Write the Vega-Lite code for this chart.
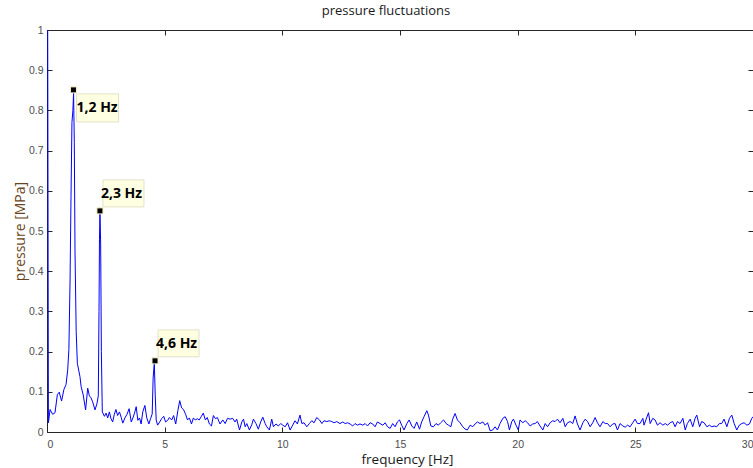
{
  "$schema": "https://vega.github.io/schema/vega-lite/v6.json",
  "width": 706,
  "height": 402,
  "autosize": "none",
  "padding": {"left": 47, "top": 30, "right": 0, "bottom": 36},
  "background": "white",
  "title": {"text": "pressure fluctuations", "font": "Open Sans", "fontSize": 13, "fontWeight": "normal", "color": "#1a1a1a", "anchor": "middle", "offset": 7, "dx": -14},
  "datasets": {
    "spectrum": [
      {"f":0.03,"p":1.0},{"f":0.06,"p":0.023},{"f":0.13,"p":0.056},{"f":0.24,"p":0.044},{"f":0.34,"p":0.048},{"f":0.44,"p":0.093},{"f":0.52,"p":0.099},{"f":0.62,"p":0.077},{"f":0.72,"p":0.106},{"f":0.81,"p":0.118},{"f":0.88,"p":0.155},{"f":0.93,"p":0.205},{"f":0.98,"p":0.378},{"f":1.02,"p":0.585},{"f":1.06,"p":0.77},{"f":1.1,"p":0.8},{"f":1.13,"p":0.843},{"f":1.16,"p":0.72},{"f":1.19,"p":0.45},{"f":1.24,"p":0.25},{"f":1.29,"p":0.171},{"f":1.4,"p":0.138},{"f":1.45,"p":0.113},{"f":1.54,"p":0.092},{"f":1.64,"p":0.055},{"f":1.73,"p":0.109},{"f":1.8,"p":0.09},{"f":1.87,"p":0.085},{"f":1.94,"p":0.075},{"f":2.04,"p":0.055},{"f":2.12,"p":0.07},{"f":2.18,"p":0.09},{"f":2.21,"p":0.3},{"f":2.23,"p":0.478},{"f":2.25,"p":0.548},{"f":2.28,"p":0.47},{"f":2.31,"p":0.2},{"f":2.35,"p":0.05},{"f":2.44,"p":0.039},{"f":2.51,"p":0.047},{"f":2.58,"p":0.035},{"f":2.65,"p":0.05},{"f":2.72,"p":0.033},{"f":2.79,"p":0.025},{"f":2.86,"p":0.044},{"f":2.93,"p":0.056},{"f":3.0,"p":0.041},{"f":3.08,"p":0.05},{"f":3.15,"p":0.037},{"f":3.22,"p":0.022},{"f":3.31,"p":0.035},{"f":3.4,"p":0.044},{"f":3.49,"p":0.058},{"f":3.58,"p":0.025},{"f":3.65,"p":0.035},{"f":3.72,"p":0.047},{"f":3.79,"p":0.063},{"f":3.86,"p":0.029},{"f":3.93,"p":0.035},{"f":4.0,"p":0.02},{"f":4.07,"p":0.05},{"f":4.16,"p":0.066},{"f":4.24,"p":0.035},{"f":4.33,"p":0.02},{"f":4.4,"p":0.033},{"f":4.47,"p":0.045},{"f":4.51,"p":0.134},{"f":4.56,"p":0.172},{"f":4.6,"p":0.09},{"f":4.64,"p":0.03},{"f":4.7,"p":0.017},{"f":4.79,"p":0.025},{"f":4.87,"p":0.033},{"f":4.96,"p":0.039},{"f":5.04,"p":0.025},{"f":5.13,"p":0.029},{"f":5.2,"p":0.036},{"f":5.3,"p":0.03},{"f":5.38,"p":0.041},{"f":5.47,"p":0.02},{"f":5.56,"p":0.053},{"f":5.64,"p":0.078},{"f":5.72,"p":0.06},{"f":5.8,"p":0.056},{"f":5.89,"p":0.044},{"f":5.97,"p":0.03},{"f":6.05,"p":0.035},{"f":6.14,"p":0.02},{"f":6.22,"p":0.035},{"f":6.3,"p":0.03},{"f":6.39,"p":0.033},{"f":6.47,"p":0.03},{"f":6.56,"p":0.039},{"f":6.64,"p":0.047},{"f":6.73,"p":0.03},{"f":6.81,"p":0.036},{"f":6.9,"p":0.02},{"f":6.99,"p":0.015},{"f":7.07,"p":0.041},{"f":7.16,"p":0.033},{"f":7.24,"p":0.036},{"f":7.35,"p":0.02},
      {"f":7.47,"p":0.03},{"f":7.57,"p":0.021},{"f":7.67,"p":0.034},{"f":7.78,"p":0.032},{"f":7.89,"p":0.034},{"f":7.99,"p":0.025},{"f":8.06,"p":0.032},{"f":8.18,"p":0.005},{"f":8.28,"p":0.025},{"f":8.35,"p":0.032},{"f":8.42,"p":0.013},{"f":8.49,"p":0.021},{"f":8.6,"p":0.005},{"f":8.7,"p":0.018},{"f":8.77,"p":0.032},{"f":8.88,"p":0.021},{"f":8.98,"p":0.007},{"f":9.08,"p":0.025},{"f":9.17,"p":0.037},{"f":9.27,"p":0.021},{"f":9.34,"p":0.013},{"f":9.45,"p":0.005},{"f":9.55,"p":0.032},{"f":9.62,"p":0.013},{"f":9.73,"p":0.02},{"f":9.83,"p":0.015},{"f":9.93,"p":0.021},{"f":10.02,"p":0.017},{"f":10.12,"p":0.013},{"f":10.22,"p":0.023},{"f":10.33,"p":0.005},{"f":10.44,"p":0.017},{"f":10.54,"p":0.028},{"f":10.64,"p":0.02},{"f":10.75,"p":0.042},{"f":10.83,"p":0.021},{"f":10.92,"p":0.023},{"f":11.04,"p":0.013},{"f":11.15,"p":0.021},{"f":11.25,"p":0.028},{"f":11.35,"p":0.023},{"f":11.46,"p":0.036},{"f":11.58,"p":0.03},{"f":11.68,"p":0.021},{"f":11.77,"p":0.028},{"f":11.89,"p":0.026},{"f":12.0,"p":0.028},{"f":12.1,"p":0.026},{"f":12.2,"p":0.023},{"f":12.31,"p":0.026},{"f":12.45,"p":0.021},{"f":12.57,"p":0.025},{"f":12.67,"p":0.021},{"f":12.77,"p":0.023},{"f":12.88,"p":0.02},{"f":12.99,"p":0.015},{"f":13.09,"p":0.021},{"f":13.19,"p":0.017},{"f":13.3,"p":0.02},{"f":13.42,"p":0.017},{"f":13.52,"p":0.021},{"f":13.62,"p":0.015},{"f":13.73,"p":0.023},{"f":13.84,"p":0.02},{"f":13.94,"p":0.013},{"f":14.04,"p":0.025},{"f":14.15,"p":0.021},{"f":14.27,"p":0.017},{"f":14.37,"p":0.023},{"f":14.47,"p":0.013},{"f":14.58,"p":0.009},{"f":14.69,"p":0.021},{"f":14.79,"p":0.013},{"f":14.89,"p":0.025},{"f":14.98,"p":0.03},{"f":15.07,"p":0.017},{"f":15.17,"p":0.005},{"f":15.29,"p":0.021},{"f":15.39,"p":0.03},{"f":15.5,"p":0.015},{"f":15.6,"p":0.009},{"f":15.71,"p":0.025},{"f":15.83,"p":0.007},{"f":15.92,"p":0.025},{"f":16.02,"p":0.038},{"f":16.14,"p":0.053},{"f":16.21,"p":0.042},{"f":16.31,"p":0.015},{"f":16.42,"p":0.013},{"f":16.53,"p":0.021},{"f":16.63,"p":0.017},{"f":16.73,"p":0.023},{"f":16.85,"p":0.03},{"f":16.96,"p":0.021},{"f":17.06,"p":0.017},{"f":17.16,"p":0.013},{"f":17.24,"p":0.032},{"f":17.34,"p":0.046},{"f":17.44,"p":0.03},{"f":17.55,"p":0.023},{"f":17.67,"p":0.013},{"f":17.77,"p":0.007},{"f":17.86,"p":0.005},{"f":17.98,"p":0.017},{"f":18.09,"p":0.013},{"f":18.19,"p":0.02},{"f":18.29,"p":0.025},{"f":18.4,"p":0.021},
      {"f":18.52,"p":0.025},{"f":18.62,"p":0.017},{"f":18.72,"p":0.023},{"f":18.83,"p":0.003},{"f":18.94,"p":0.005},{"f":19.04,"p":0.013},{"f":19.14,"p":0.005},{"f":19.25,"p":0.021},{"f":19.37,"p":0.034},{"f":19.47,"p":0.038},{"f":19.57,"p":0.026},{"f":19.65,"p":0.005},{"f":19.75,"p":0.026},{"f":19.82,"p":0.032},{"f":19.93,"p":0.017},{"f":20.03,"p":0.005},{"f":20.1,"p":0.03},{"f":20.22,"p":0.023},{"f":20.32,"p":0.028},{"f":20.42,"p":0.023},{"f":20.53,"p":0.015},{"f":20.64,"p":0.02},{"f":20.74,"p":0.021},{"f":20.84,"p":0.026},{"f":20.95,"p":0.015},{"f":21.07,"p":0.005},{"f":21.17,"p":0.021},{"f":21.27,"p":0.013},{"f":21.38,"p":0.023},{"f":21.49,"p":0.028},{"f":21.59,"p":0.026},{"f":21.69,"p":0.032},{"f":21.8,"p":0.023},{"f":21.92,"p":0.034},{"f":22.02,"p":0.013},{"f":22.12,"p":0.023},{"f":22.23,"p":0.026},{"f":22.34,"p":0.021},{"f":22.44,"p":0.04},{"f":22.54,"p":0.02},{"f":22.65,"p":0.005},{"f":22.77,"p":0.023},{"f":22.87,"p":0.032},{"f":22.97,"p":0.026},{"f":23.08,"p":0.013},{"f":23.19,"p":0.023},{"f":23.29,"p":0.036},{"f":23.39,"p":0.023},{"f":23.5,"p":0.013},{"f":23.62,"p":0.026},{"f":23.72,"p":0.021},{"f":23.82,"p":0.021},{"f":23.93,"p":0.013},{"f":24.04,"p":0.02},{"f":24.14,"p":0.021},{"f":24.24,"p":0.005},{"f":24.35,"p":0.021},{"f":24.47,"p":0.015},{"f":24.57,"p":0.012},{"f":24.67,"p":0.017},{"f":24.78,"p":0.013},{"f":24.89,"p":0.023},{"f":24.99,"p":0.032},{"f":25.09,"p":0.021},{"f":25.2,"p":0.021},{"f":25.32,"p":0.034},{"f":25.37,"p":0.017},{"f":25.46,"p":0.032},{"f":25.56,"p":0.048},{"f":25.63,"p":0.021},{"f":25.74,"p":0.034},{"f":25.84,"p":0.03},{"f":25.94,"p":0.017},{"f":26.05,"p":0.023},{"f":26.17,"p":0.017},{"f":26.27,"p":0.021},{"f":26.37,"p":0.017},{"f":26.48,"p":0.023},{"f":26.59,"p":0.026},{"f":26.69,"p":0.013},{"f":26.79,"p":0.026},{"f":26.9,"p":0.021},{"f":27.02,"p":0.034},{"f":27.12,"p":0.005},{"f":27.21,"p":0.021},{"f":27.33,"p":0.032},{"f":27.44,"p":0.013},{"f":27.54,"p":0.034},{"f":27.61,"p":0.042},{"f":27.73,"p":0.013},{"f":27.82,"p":0.026},{"f":27.92,"p":0.023},{"f":28.04,"p":0.013},{"f":28.15,"p":0.017},{"f":28.25,"p":0.013},{"f":28.35,"p":0.015},{"f":28.46,"p":0.013},{"f":28.57,"p":0.021},{"f":28.67,"p":0.021},{"f":28.77,"p":0.032},{"f":28.89,"p":0.013},{"f":29.0,"p":0.034},{"f":29.1,"p":0.042},{"f":29.2,"p":0.021},{"f":29.31,"p":0.005},{"f":29.42,"p":0.017},{"f":29.52,"p":0.021},{"f":29.62,"p":0.023},{"f":29.74,"p":0.017},{"f":29.85,"p":0.02},{"f":29.95,"p":0.034},{"f":30.0,"p":0.038}
    ],
    "notes": [
      {"f":1.126,"p":0.851,"label":"1,2 Hz","side":"below"},
      {"f":2.25,"p":0.55,"label":"2,3  Hz","side":"above"},
      {"f":4.59,"p":0.177,"label":"4,6 Hz","side":"above"}
    ]
  },
  "layer": [
    {
      "data": {"name": "spectrum"},
      "mark": {"type": "rule", "opacity": 0},
      "encoding": {
        "x": {"field": "f", "type": "quantitative", "axis": {"orient": "top", "values": [0,5,10,15,20,25,30], "tickSize": -5, "labels": false, "title": null}},
        "y": {"field": "p", "type": "quantitative", "axis": {"orient": "right", "values": [0,0.1,0.2,0.3,0.4,0.5,0.6,0.7,0.8,0.9,1], "tickSize": -5, "labels": false, "title": null}}
      }
    },
    {
      "data": {"name": "spectrum"},
      "mark": {"type": "line", "color": "#0000ff", "strokeWidth": 1, "clip": true},
      "encoding": {
        "x": {"field": "f", "type": "quantitative", "scale": {"domain": [0, 30], "nice": false, "zero": false},
              "axis": {"orient": "bottom", "values": [0,5,10,15,20,25,30], "tickSize": -5, "labelPadding": 12, "title": "frequency [Hz]", "titleX": 360, "titleY": 27, "titleBaseline": "middle", "titleFont": "Open Sans", "titleFontSize": 13.5, "titleFontWeight": "normal", "titleColor": "#1a1a1a"}},
        "y": {"field": "p", "type": "quantitative", "scale": {"domain": [0, 1], "nice": false},
              "axis": {"orient": "left", "values": [0,0.1,0.2,0.3,0.4,0.5,0.6,0.7,0.8,0.9,1], "format": ".1~f", "tickSize": -5, "labelPadding": 9, "title": "pressure [MPa]", "titleX": -27, "titleY": 201, "titleAngle": -90, "titleAlign": "center", "titleBaseline": "middle", "titleFont": "Open Sans", "titleFontSize": 14, "titleFontWeight": "normal", "titleColor": "#6a4420"}}
      }
    },
    {
      "data": {"name": "notes"},
      "transform": [{"filter": "datum.side == 'below'"}],
      "mark": {"type": "rect", "fill": "#ffffe1", "stroke": "#e4e0c8", "strokeWidth": 1, "xOffset": 3, "x2Offset": 45, "yOffset": 4, "y2Offset": 32},
      "encoding": {
        "x": {"field": "f", "type": "quantitative", "axis": null},
        "x2": {"field": "f"},
        "y": {"field": "p", "type": "quantitative", "axis": null},
        "y2": {"field": "p"}
      }
    },
    {
      "data": {"name": "notes"},
      "transform": [{"filter": "datum.side == 'above'"}],
      "mark": {"type": "rect", "fill": "#ffffe1", "stroke": "#e4e0c8", "strokeWidth": 1, "xOffset": 3, "x2Offset": 44, "yOffset": -31, "y2Offset": -4},
      "encoding": {
        "x": {"field": "f", "type": "quantitative", "axis": null},
        "x2": {"field": "f"},
        "y": {"field": "p", "type": "quantitative", "axis": null},
        "y2": {"field": "p"}
      }
    },
    {
      "data": {"name": "notes"},
      "transform": [{"filter": "datum.side == 'below'"}],
      "mark": {"type": "text", "align": "left", "baseline": "middle", "dx": 3, "dy": 18, "font": "Open Sans", "fontSize": 14, "fontWeight": "bold", "color": "#000000"},
      "encoding": {
        "x": {"field": "f", "type": "quantitative", "axis": null},
        "y": {"field": "p", "type": "quantitative", "axis": null},
        "text": {"field": "label"}
      }
    },
    {
      "data": {"name": "notes"},
      "transform": [{"filter": "datum.side == 'above'"}],
      "mark": {"type": "text", "align": "left", "baseline": "middle", "dx": 1, "dy": -17, "font": "Open Sans", "fontSize": 14, "fontWeight": "bold", "color": "#000000"},
      "encoding": {
        "x": {"field": "f", "type": "quantitative", "axis": null},
        "y": {"field": "p", "type": "quantitative", "axis": null},
        "text": {"field": "label"}
      }
    },
    {
      "data": {"name": "notes"},
      "mark": {"type": "square", "size": 36, "filled": true, "color": "#000000", "stroke": "#f4eec0", "strokeWidth": 1, "opacity": 1},
      "encoding": {
        "x": {"field": "f", "type": "quantitative", "axis": null},
        "y": {"field": "p", "type": "quantitative", "axis": null}
      }
    }
  ],
  "resolve": {"axis": {"x": "independent", "y": "independent"}},
  "config": {
    "view": {"stroke": "#262626", "strokeWidth": 1},
    "axis": {"grid": false, "domainColor": "#262626", "tickColor": "#262626", "labelColor": "#4d4d4d", "labelFont": "Liberation Sans", "labelFontSize": 10.5, "ticks": true}
  }
}
